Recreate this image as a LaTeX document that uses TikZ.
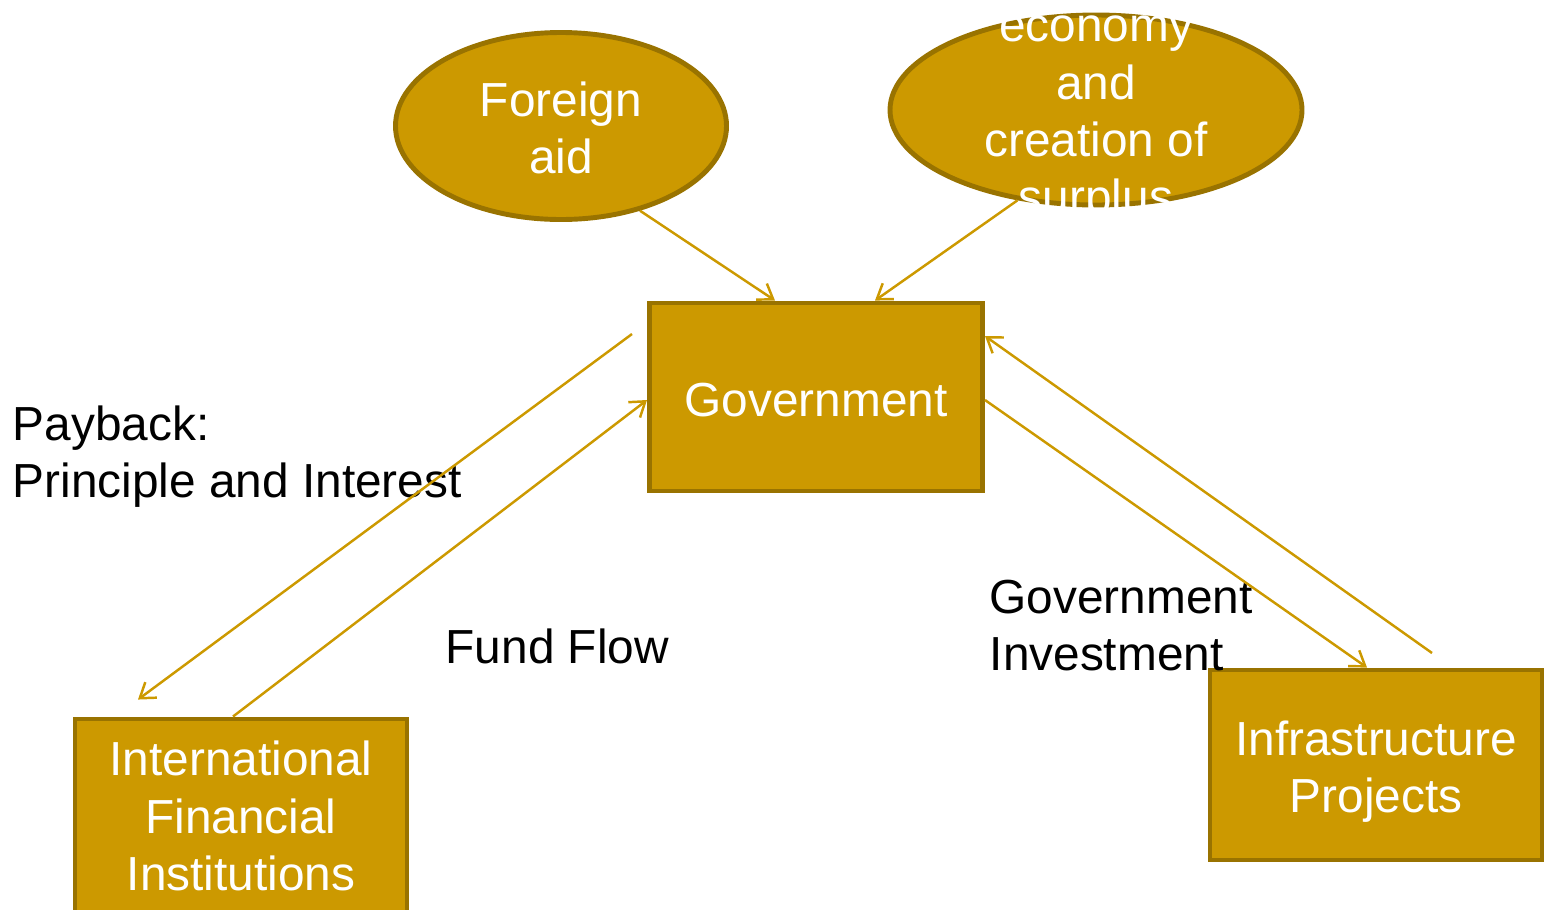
\documentclass[tikz,border=0pt]{standalone}
\usepackage{fontspec}
\setmainfont{Liberation Sans}
\usetikzlibrary{positioning, shapes.geometric, arrows.meta}

\definecolor{gold}{HTML}{CC9900}
\definecolor{darkgold}{HTML}{997300}

\begin{document}
\begin{tikzpicture}[every node/.style={font=\fontsize{13.6}{16.3}\selectfont, align=center},
    oval/.style={ellipse, draw=darkgold, fill=gold, line width=1.4pt, inner sep=0pt},
    box/.style={rectangle, draw=darkgold, fill=gold, line width=1.4pt, text=white},
    label/.style={anchor=north west, inner sep=0pt, align=left},
    flow/.style={draw=gold, line width=0.7pt, -{Straight Barb[length=4pt, width=5.5pt]}}]
            \useasboundingbox (0,0) rectangle (15.45,-9.09);

            \node (fa) [oval, minimum width=3.31cm, minimum height=1.87cm] at (5.61,-1.26) {};
            \node (fa-text) [text=white] at ([yshift=-0.02cm]fa) {Foreign\\aid};
            \node (eco) [oval, minimum width=4.12cm, minimum height=1.90cm] at (10.96,-1.10) {};
            \node (eco-text) [text=white] at ([yshift=-0.10cm]eco) {economy\\and\\creation of\\surplus};

            \node (gov) [box, minimum width=3.33cm, minimum height=1.88cm] at (8.16,-3.97) {};
            \node (gov-text) [text=white] at ([yshift=-0.03cm]gov) {Government};
            \node (ifi) [box, minimum width=3.32cm, minimum height=1.96cm] at (2.41,-8.17) {};
            \node (ifi-text) [text=white] at ([yshift=0.01cm]ifi) {International\\Financial\\Institutions};
            \node (infra) [box, minimum width=3.32cm, minimum height=1.90cm] at (13.76,-7.65) {};
            \node (infra-text) [text=white] at ([yshift=-0.07cm]infra) {Infrastructure\\Projects};

            \node (payback) [label] at (0.12,-4.05) {Payback:\\Principle and Interest};
            \node (fund) [label] at (4.45,-6.28) {Fund Flow};
            \node (invest) [label] at (9.89,-5.79) {Government\\Investment};

            \coordinate (pb-start) at (6.32,-3.34);
            \coordinate (ret-start) at (14.32,-6.53);

            \draw[flow] (fa.-47) -- ([xshift=-0.41cm]gov.north);
            \draw[flow] (eco.-131) -- ([xshift=0.59cm]gov.north);
            \draw[flow] (pb-start) -- ([xshift=-1.03cm, yshift=0.17cm]ifi.north);
            \draw[flow] ([xshift=-0.08cm]ifi.north) -- ([yshift=-0.03cm]gov.west);
            \draw[flow] ([yshift=-0.03cm]gov.east) -- ([xshift=-0.09cm]infra.north);
            \draw[flow] (ret-start) -- ([yshift=0.61cm]gov.east);
        \end{tikzpicture}
\end{document}
